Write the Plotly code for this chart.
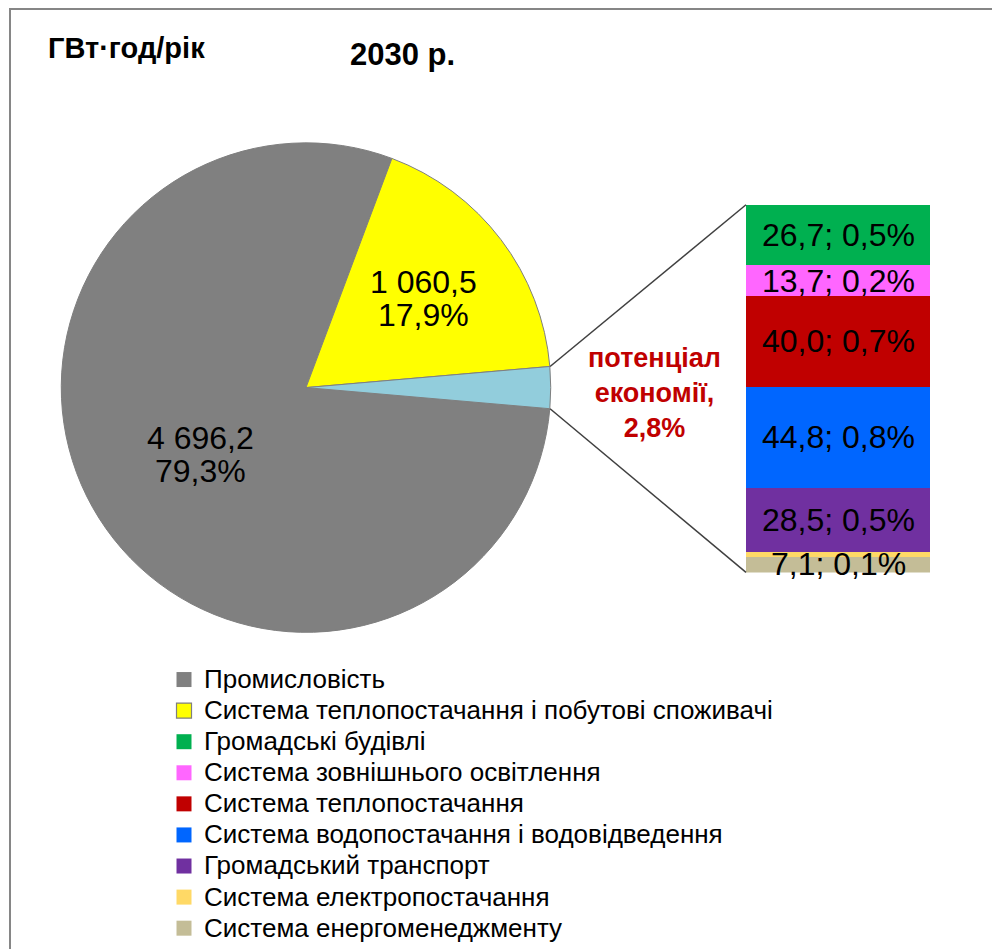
import math
import plotly.graph_objects as go

W, H = 992, 949
FONT = "Liberation Sans, Arial, sans-serif"

# ---- data -------------------------------------------------------------
unit_label = "ГВт·год/рік"
title_text = "2030 р."

pie_labels = ["Промисловість", "Система теплопостачання і побутові споживачі"]
pie_values = [4696.2, 1060.5]
pie_colors = ["#808080", "#FFFF00"]
other_label = "потенціал економії"
other_color = "#92CDDC"

# breakdown of the savings potential, listed from the top of the column down
bar_labels = [
    "Громадські будівлі",
    "Система зовнішнього освітлення",
    "Система теплопостачання",
    "Система водопостачання і водовідведення",
    "Громадський транспорт",
    "Система електропостачання",
    "Система енергоменеджменту",
]
bar_values = [26.7, 13.7, 40.0, 44.8, 28.5, 2.0, 7.1]
bar_colors = ["#00B050", "#FF66FF", "#C00000", "#0066FF", "#7030A0", "#FFD966", "#C4BD97"]
bar_labelled = [True, True, True, True, True, False, True]

# ---- geometry (pixels) --------------------------------------------------
PIE_CX, PIE_CY, PIE_R = 306, 388, 245
BAR_L, BAR_R, BAR_T, BAR_B = 746, 930, 205, 573
LABEL_RADIUS = [0.51, 0.60]          # label distance from centre, share of radius
LABEL_SIZE = 32
LEGEND_TEXT = 26


def px(x):
    return x / W


def py(y):
    return 1 - y / H


def num(v):
    return f"{v:,.1f}".replace(",", " ").replace(".", ",")


def pct(p):
    return f"{p * 100:.1f}".replace(".", ",") + "%"


other_value = sum(bar_values)
all_values = pie_values + [other_value]
total = sum(all_values)
# the aggregated slice is centred on 3 o'clock
rotation = 90 + 180 * other_value / total

fig = go.Figure()

fig.add_trace(go.Pie(
    labels=pie_labels + [other_label],
    values=all_values,
    sort=False,
    direction="clockwise",
    rotation=rotation,
    marker=dict(colors=pie_colors + [other_color], line=dict(color="#7F7F7F", width=1)),
    textinfo="none",
    showlegend=False,
    domain=dict(x=[px(PIE_CX - PIE_R), px(PIE_CX + PIE_R)],
                y=[py(PIE_CY + PIE_R), py(PIE_CY - PIE_R)]),
))

# stacked column, drawn from the bottom segment up
for name, v, c in reversed(list(zip(bar_labels, bar_values, bar_colors))):
    fig.add_trace(go.Bar(
        x=[0], y=[v], width=1, name=name, legendgroup=name,
        marker=dict(color=c, line=dict(width=0)),
        showlegend=False, xaxis="x", yaxis="y",
    ))

# legend entries
legend_entries = list(zip(pie_labels, pie_colors)) + list(zip(bar_labels, bar_colors))
for name, c in legend_entries:
    edge = dict(color="#7F7F7F", width=1.2) if c == "#FFFF00" else dict(width=0)
    fig.add_trace(go.Scatter(
        x=[None], y=[None], mode="markers", legendgroup=name,
        name=f'<span style="font-size:{LEGEND_TEXT}px">{name}</span>',
        marker=dict(symbol="square", size=15, color=c, line=edge),
        xaxis="x", yaxis="y",
    ))

annotations = []

# pie slice labels
angle = rotation
for v, f in zip(pie_values, LABEL_RADIUS):
    span = 360 * v / total
    mid = math.radians(angle + span / 2)
    lx = PIE_CX + f * PIE_R * math.sin(mid)
    ly = PIE_CY - f * PIE_R * math.cos(mid)
    for txt, dy in ((num(v), -16.5), (pct(v / total), 16.5)):
        annotations.append(dict(
            x=px(lx), y=py(ly + dy), xref="paper", yref="paper", text=txt,
            showarrow=False, xanchor="center", yanchor="middle",
            font=dict(size=LABEL_SIZE, color="black", family=FONT),
        ))
    angle += span

# column segment labels
top = other_value
for v, show in zip(bar_values, bar_labelled):
    mid = top - v / 2
    top -= v
    if show:
        annotations.append(dict(
            x=0, y=mid, xref="x", yref="y", text=f"{num(v)}; {pct(v / total)}",
            showarrow=False, xanchor="center", yanchor="middle",
            font=dict(size=LABEL_SIZE, color="black", family=FONT),
        ))

annotations += [
    dict(x=px(654), y=py(393), xref="paper", yref="paper",
         text=f"потенціал<br>економії,<br>{pct(other_value / total)}",
         showarrow=False, xanchor="center", yanchor="middle", align="center",
         font=dict(size=27, color="#C00000", family=FONT, weight="bold")),
    dict(x=px(402), y=py(55), xref="paper", yref="paper", text=title_text,
         showarrow=False, xanchor="center", yanchor="middle",
         font=dict(size=31, color="black", family=FONT, weight="bold")),
    dict(x=px(126), y=py(48), xref="paper", yref="paper", text=unit_label,
         showarrow=False, xanchor="center", yanchor="middle",
         font=dict(size=29, color="black", family=FONT, weight="bold")),
]

# connector lines from the aggregated slice to the column
half = 180 * other_value / total
upper = math.radians(90 - half)
lower = math.radians(90 + half)
shapes = []
for a, by in ((upper, BAR_T), (lower, BAR_B)):
    sx = PIE_CX + PIE_R * math.sin(a)
    sy = PIE_CY - PIE_R * math.cos(a)
    shapes.append(dict(type="line", xref="paper", yref="paper",
                       x0=px(sx), y0=py(sy), x1=px(BAR_L), y1=py(by),
                       line=dict(color="#404040", width=1.5)))

# chart frame
shapes.append(dict(type="rect", xref="paper", yref="paper",
                   x0=px(10), y0=py(9), x1=px(W + 20), y1=py(H + 20),
                   line=dict(color="#868686", width=2)))

fig.update_layout(
    width=W, height=H,
    margin=dict(l=0, r=0, t=0, b=0),
    paper_bgcolor="white", plot_bgcolor="rgba(0,0,0,0)",
    barmode="stack", bargap=0,
    xaxis=dict(domain=[px(BAR_L), px(BAR_R)], range=[-0.5, 0.5], visible=False, fixedrange=True),
    yaxis=dict(domain=[py(BAR_B), py(BAR_T)], range=[0, other_value], visible=False, fixedrange=True),
    legend=dict(x=px(164), y=py(659.5), xanchor="left", yanchor="top",
                traceorder="normal", bgcolor="rgba(0,0,0,0)", borderwidth=0,
                font=dict(size=21.6, color="black", family=FONT)),
    annotations=annotations,
    shapes=shapes,
    font=dict(family=FONT),
)

fig.write_html("out.html")
